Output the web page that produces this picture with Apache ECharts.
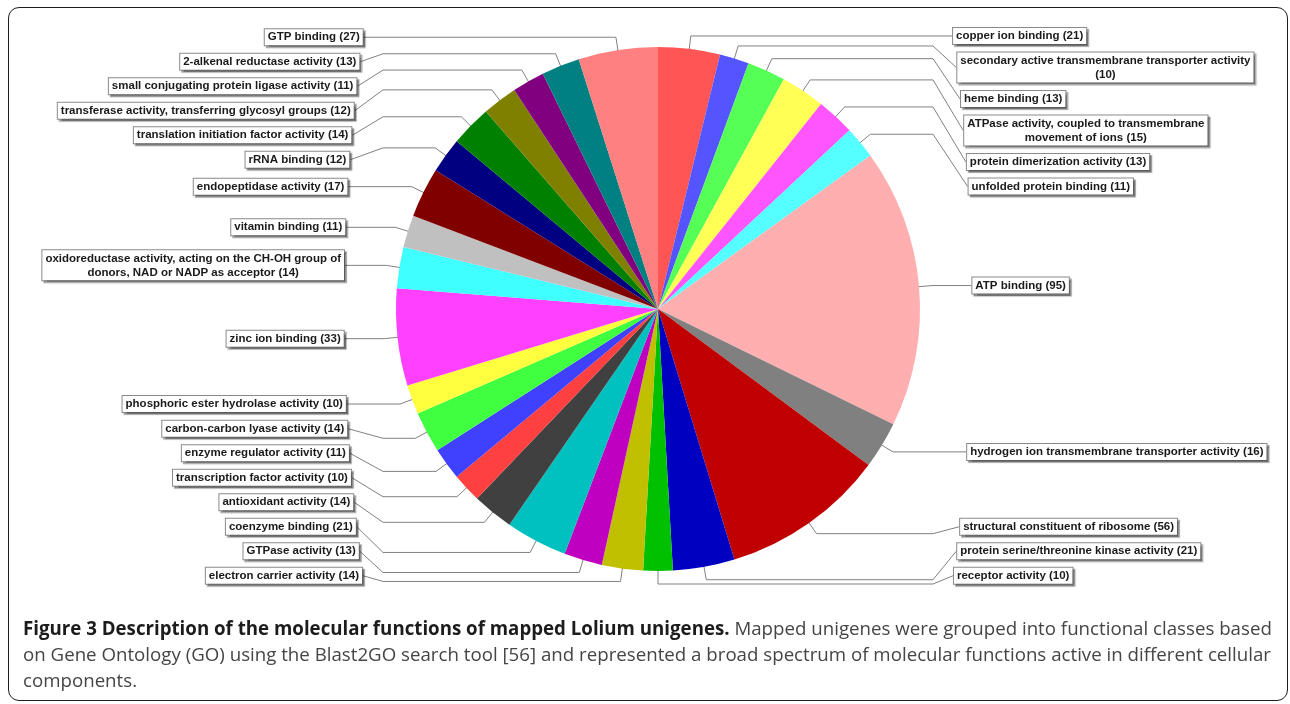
<!DOCTYPE html>
<html>
<head>
<meta charset="utf-8">
<script src="https://cdn.jsdelivr.net/npm/echarts@6/dist/echarts.min.js"></script>
<style>
html,body{margin:0;padding:0;background:#fff;}
#wrap{position:relative;width:1290px;height:704px;overflow:hidden;background:#fff;}
#chart{position:absolute;left:0;top:0;width:1290px;height:704px;}
#frame{position:absolute;left:8px;top:7px;width:1280px;height:694px;border:1.6px solid #1e1e1e;border-radius:11px;box-sizing:border-box;pointer-events:none;}
#caption{position:absolute;left:23px;top:615px;width:1262px;font-family:"Open Sans",sans-serif;font-size:16px;line-height:26px;color:#454545;}
#caption div{white-space:nowrap;}
#caption span.line{display:inline-block;white-space:nowrap;}
#caption b{color:#1c1c1c;font-weight:700;}
</style>
</head>
<body>
<div id="wrap">
  <div id="chart"></div>
  <div id="frame"></div>
  <div id="caption">
    <div><span class="line" id="l1"><b>Figure 3 Description of the molecular functions of mapped Lolium unigenes.</b> Mapped unigenes were grouped into functional classes based</span></div>
    <div><span class="line">on Gene Ontology (GO) using the Blast2GO search tool [56] and represented a broad spectrum of molecular functions active in different cellular</span></div>
    <div><span class="line">components.</span></div>
  </div>
</div>
<script>
// ---------------- data ----------------
const categories = [
  'copper ion binding',
  'secondary active transmembrane transporter activity',
  'heme binding',
  'ATPase activity, coupled to transmembrane movement of ions',
  'protein dimerization activity',
  'unfolded protein binding',
  'ATP binding',
  'hydrogen ion transmembrane transporter activity',
  'structural constituent of ribosome',
  'protein serine/threonine kinase activity',
  'receptor activity',
  'electron carrier activity',
  'GTPase activity',
  'coenzyme binding',
  'antioxidant activity',
  'transcription factor activity',
  'enzyme regulator activity',
  'carbon-carbon lyase activity',
  'phosphoric ester hydrolase activity',
  'zinc ion binding',
  'oxidoreductase activity, acting on the CH-OH group of donors, NAD or NADP as acceptor',
  'vitamin binding',
  'endopeptidase activity',
  'rRNA binding',
  'translation initiation factor activity',
  'transferase activity, transferring glycosyl groups',
  'small conjugating protein ligase activity',
  '2-alkenal reductase activity',
  'GTP binding'
];
const counts = [21,10,13,15,13,11,95,16,56,21,10,14,13,21,14,10,11,14,10,33,14,11,17,12,14,12,11,13,27];
// word after which a label wraps to a second line
const wrapAfter = {1: 'activity', 3: 'transmembrane', 20: 'of'};

// ---------------- style ----------------
const palette = ['#FF5555','#5555FF','#55FF55','#FFFF55','#FF55FF','#55FFFF','#FFAFAF','#808080',
  '#C00000','#0000C0','#00C000','#C0C000','#C000C0','#00C0C0','#404040','#FF4040','#4040FF',
  '#40FF40','#FFFF40','#FF40FF','#40FFFF','#C0C0C0','#800000','#000080','#008000','#808000',
  '#800080','#008080','#FF8080'];
const FONT_FAMILY = 'Liberation Sans';
const FONT_SIZE = 11.5;
const FONT_WEIGHT = 'bold';
const LINE_H = 14, PAD_X = 3, PAD_Y = 1;

const cx = 658, cy = 309, R = 262;
const RL = 275;          // link radius (elbow)
const linkPct = 0.9;     // where leader starts inside slice
const plotTop = 8, plotBottom = 586;
const minGap = 4, hSingle = 20.5, hExtra = 14;

// caption fit: line 1 spans the text block width
(function fitCaption() {
  const l1 = document.getElementById('l1');
  const w = l1.getBoundingClientRect().width;
  const fs = 16 * 1250 / w;
  document.getElementById('caption').style.fontSize = fs.toFixed(2) + 'px';
})();

function labelText(i) {
  let t = categories[i] + ' (' + counts[i] + ')';
  if (wrapAfter[i]) t = t.replace(wrapAfter[i] + ' ', wrapAfter[i] + '\n');
  return t;
}

// measure text
const mctx = document.createElement('canvas').getContext('2d');
mctx.font = FONT_WEIGHT + ' ' + FONT_SIZE + 'px "' + FONT_FAMILY + '"';
function textW(t) { return Math.max.apply(null, t.split('\n').map(s => mctx.measureText(s).width)); }

// ---------- label layout (JFreeChart-like distributor) ----------
const total = counts.reduce((a, b) => a + b, 0);
let acc = 0;
const recs = counts.map((v, i) => {
  const a0 = acc / total * Math.PI * 2; acc += v;
  const a1 = acc / total * Math.PI * 2;
  const mid = (a0 + a1) / 2;
  const txt = labelText(i);
  const lines = txt.split('\n').length;
  const baseY = cy - RL * Math.cos(mid);
  return { i, mid, txt, right: Math.sin(mid) > -1e-9, h: hSingle + hExtra * (lines - 1), y: baseY };
});

function distribute(list) {
  list.sort((a, b) => a.y - b.y);
  const lo = r => r.y - r.h / 2, up = r => r.y + r.h / 2;
  const overlap = () => { let y = -1e9; for (const r of list) { if (y > lo(r)) return true; y = up(r); } return false; };
  if (overlap()) {
    for (let k = 0; k < list.length - 1; k++) {
      const r0 = list[k], r1 = list[k + 1];
      if (lo(r1) < up(r0)) r1.y = Math.min(plotBottom - r1.h / 2, up(r0) + minGap + r1.h / 2);
    }
  }
  if (overlap()) {
    for (let k = list.length - 1; k > 0; k--) {
      const r0 = list[k], r1 = list[k - 1];
      if (up(r1) > lo(r0)) r1.y = Math.max(plotTop + r1.h / 2, lo(r0) - minGap - r1.h / 2);
    }
  }
}
distribute(recs.filter(r => r.right));
distribute(recs.filter(r => !r.right));

recs.forEach(r => {
  const dy = (r.y - cy) / 270;
  const gap = 38.5 - 19 * dy * dy;
  const s = Math.sin(r.mid), c = Math.cos(r.mid);
  const linkX = cx + s * R * linkPct, linkY = cy - c * R * linkPct;
  const elbowX = cx + s * RL, elbowY = cy - c * RL;
  const anchorX = r.right ? cx + RL : cx - RL;
  const edgeX = r.right ? anchorX + gap : anchorX - gap;
  const boxW = textW(r.txt) + PAD_X * 2 + 2;
  r.lx = r.right ? edgeX + boxW / 2 : edgeX - boxW / 2;
  r.pts = [[linkX, linkY], [elbowX, elbowY], [anchorX, elbowY], [edgeX, r.y]];
});
const byIndex = {};
recs.forEach(r => { byIndex[r.i] = r; });

const chart = echarts.init(document.getElementById('chart'), null, { renderer: 'canvas' });
chart.setOption({
  animation: false,
  backgroundColor: 'transparent',
  series: [{
    type: 'pie',
    center: [cx, cy],
    radius: [0, R],
    startAngle: 90,
    clockwise: true,
    avoidLabelOverlap: false,
    emphasis: { disabled: true },
    itemStyle: { borderWidth: 0 },
    data: categories.map((name, i) => ({ name, value: counts[i], itemStyle: { color: palette[i] } })),
    label: {
      show: true,
      position: 'outside',
      formatter: p => labelText(p.dataIndex),
      fontFamily: FONT_FAMILY,
      fontSize: FONT_SIZE,
      fontWeight: FONT_WEIGHT,
      color: '#1a1a1a',
      lineHeight: LINE_H,
      padding: [PAD_Y, PAD_X],
      backgroundColor: '#fff',
      borderColor: '#8a8a8a',
      borderWidth: 1,
      shadowColor: 'rgba(0,0,0,0.35)',
      shadowBlur: 1,
      shadowOffsetX: 2,
      shadowOffsetY: 2
    },
    labelLine: {
      show: true, length: 10, length2: 10, smooth: false,
      lineStyle: { color: '#808080', width: 1 }
    },
    labelLayout: p => {
      const r = byIndex[p.dataIndex];
      return { x: r.lx, y: r.y, align: 'center', verticalAlign: 'middle', labelLinePoints: r.pts, hideOverlap: false, moveOverlap: false };
    }
  }]
});
</script>
</body>
</html>
